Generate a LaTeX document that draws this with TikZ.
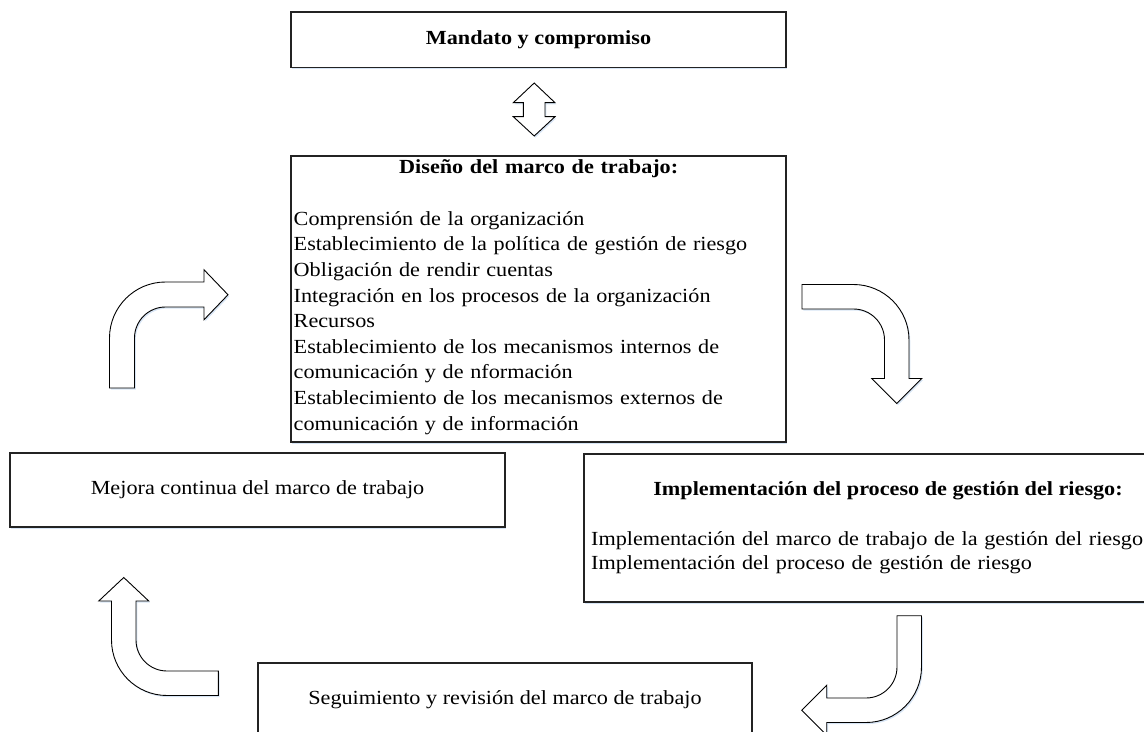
\documentclass[tikz,border=0pt]{standalone}
\usepackage{fontspec}
\setmainfont{Liberation Serif}[FakeStretch=1.11]
\usetikzlibrary{shadows}
\definecolor{edge}{RGB}{35,35,35}
\definecolor{glow}{RGB}{205,222,242}
\tikzset{
  shad/.style={drop shadow={shadow xshift=1.3bp, shadow yshift=-1.6bp, fill=glow, opacity=0.8}},
  box/.style={draw=edge, line width=1.2bp, fill=white, rectangle, inner sep=0pt, shad,
              font=\fontsize{20bp}{25.6bp}\selectfont},
  bigarrow/.style={draw=black, line width=0.9bp, fill=white, line join=miter, shad},
  txt/.style={inner sep=0pt, font=\fontsize{20bp}{25.6bp}\selectfont},
}
\begin{document}
\begin{tikzpicture}[x=1bp,y=-1bp]
\useasboundingbox (0,0) rectangle (1144,732);
\clip (0,0) rectangle (1144,732);

% boxes
\node[box, minimum width=495bp, minimum height=55.5bp] (mandato) at (538.5,39.75) {\bfseries Mandato y compromiso};
\node[box, minimum width=495bp, minimum height=286bp] (diseno) at (538.5,299) {};
\node[box, minimum width=495bp, minimum height=74bp] (mejora) at (257.5,490) {Mejora continua del marco de trabajo};
\node[box, minimum width=608bp, minimum height=148bp] (implem) at (888,528) {};
\node[box, minimum width=494bp, minimum height=74bp] (seguim) at (505,700) {Seguimiento y revisión del marco de trabajo};

% texts of the large boxes
\node[txt, anchor=base west, text width=490bp, align=left] (disenotxt) at (293.5,174) {%
\makebox[\linewidth][c]{\bfseries Diseño del marco de trabajo:}\\[25.6bp]
Comprensión de la organización\\
Establecimiento de la política de gestión de riesgo\\
Obligación de rendir cuentas\\
Integración en los procesos de la organización\\
Recursos\\
\makebox[\linewidth][s]{Establecimiento de los mecanismos internos de}\\
comunicación y de nformación\\
\makebox[\linewidth][s]{Establecimiento de los mecanismos externos de}\\
comunicación y de información};
\node[txt, anchor=base, font=\fontsize{20bp}{25.6bp}\selectfont\bfseries] (implemtit) at (888,495) {Implementación del proceso de gestión del riesgo:};
\node[txt, anchor=base west, text width=560bp, align=left, font=\fontsize{20bp}{24bp}\selectfont] (implemtxt) at (591,545) {%
Implementación del marco de trabajo de la gestión del riesgo\\
Implementación del proceso de gestión de riesgo};

% double arrow between Mandato and Diseño
\draw[bigarrow] (534.2,83) -- (555,102.7) -- (545,102.7) -- (545,116.7) -- (555,116.7)
  -- (534.2,136) -- (513.3,116.7) -- (523.3,116.7) -- (523.3,102.7) -- (513.3,102.7) -- cycle;

% up-right arrow (Mejora -> Diseño)
\draw[bigarrow] (109.5,388) -- (109.5,338) arc(180:90:56bp) -- (204,282) -- (204,269.75)
  -- (228,294.75) -- (204,319.75) -- (204,307) -- (165.5,307) arc(90:180:31bp) -- (134.5,388) -- cycle;

% right-down arrow (Diseño -> Implementación)
\draw[bigarrow] (802,284.5) -- (853.5,284.5) arc(90:0:55.5bp) -- (909,378.5) -- (921.75,378.5)
  -- (896.75,403.5) -- (871.75,378.5) -- (884.5,378.5) -- (884.5,340) arc(0:90:31bp) -- (802,309) -- cycle;

% down-left arrow (Implementación -> Seguimiento)
\draw[bigarrow] (897,615.7) -- (921.5,615.7) -- (921.5,667) arc(0:-90:55.5bp) -- (826.7,722.5)
  -- (826.7,735.25) -- (801.7,710.25) -- (826.7,685.25) -- (826.7,698) -- (866,698) arc(-90:0:31bp) -- cycle;

% up arrow (Seguimiento -> Mejora)
\draw[bigarrow] (218.3,695.5) -- (167,695.5) arc(270:180:55.5bp) -- (111.5,601) -- (98.75,601)
  -- (123.75,577.5) -- (148.75,601) -- (136,601) -- (136,640) arc(180:270:31bp) -- (218.3,671) -- cycle;
\end{tikzpicture}
\end{document}
